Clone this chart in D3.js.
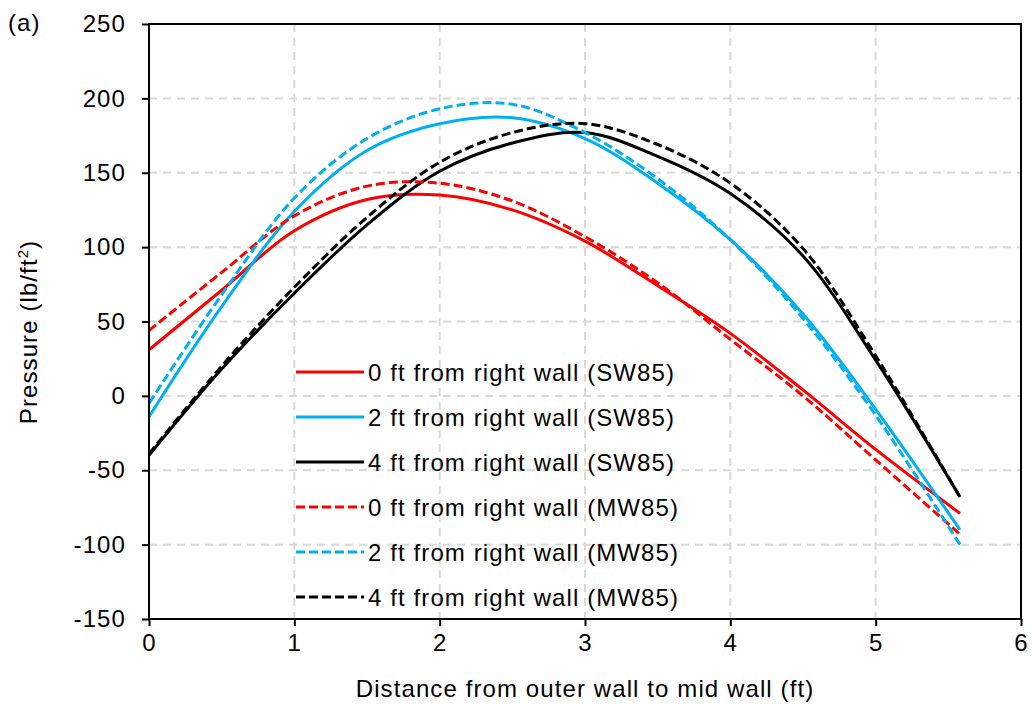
<!DOCTYPE html>
<html>
<head>
<meta charset="utf-8">
<script src="https://cdn.jsdelivr.net/npm/d3@7"></script>
<style>
  html, body { margin: 0; padding: 0; background: #fff; }
  svg { display: block; font-family: "Liberation Sans", Arial, sans-serif; }
</style>
</head>
<body>
<svg id="chart" width="1032" height="704"></svg>
<script>
// Distance from the outer wall (ft)
const xs = [0, 0.5, 1, 1.5, 2, 2.5, 3, 3.5, 4, 4.5, 5, 5.58];

// Pressure (lb/ft²) along the span, one array per measurement line
const sw0 = [31, 71, 111, 132, 135, 125, 104, 74, 42, 4, -36, -79];
const sw2 = [-14, 60, 124, 165, 183, 187, 173, 143, 105, 55, -9, -90];
const sw4 = [-40, 18, 69, 115, 151, 170, 177, 161, 136, 94, 24, -68];
const mw0 = [44, 83, 121, 141, 143, 131, 107, 76, 38, 0, -43, -93];
const mw2 = [-5, 68, 133, 173, 193, 196, 177, 146, 105, 52, -13, -100];
const mw4 = [-39, 20, 73, 120, 157, 177, 183, 169, 143, 99, 27, -68];

const seriesNames = [
  "0 ft from right wall (SW85)",
  "2 ft from right wall (SW85)",
  "4 ft from right wall (SW85)",
  "0 ft from right wall (MW85)",
  "2 ft from right wall (MW85)",
  "4 ft from right wall (MW85)"
];
const seriesValues = [sw0, sw2, sw4, mw0, mw2, mw4];
const seriesColors = ["#ff0000", "#00b0f0", "#000000", "#ff0000", "#00b0f0", "#000000"];
const seriesDashed = [false, false, false, true, true, true];

const xTicks = [0, 1, 2, 3, 4, 5, 6];
const yTicks = [-150, -100, -50, 0, 50, 100, 150, 200, 250];

const xTitle = "Distance from outer wall to mid wall (ft)";
const panelLabel = "(a)";

const svg = d3.select("#chart");
const plot = { left: 149, right: 1021, top: 24, bottom: 619 };

const x = d3.scaleLinear().domain([0, 6]).range([plot.left, plot.right]);
const y = d3.scaleLinear().domain([-150, 250]).range([plot.bottom, plot.top]);

const fontSize = 24;
const spacing = "1.1px";

// grid
const grid = svg.append("g");
grid.selectAll("line.v").data(xTicks.filter(t => t > 0 && t < 6)).enter().append("line")
  .attr("x1", d => x(d)).attr("x2", d => x(d))
  .attr("y1", plot.top).attr("y2", plot.bottom)
  .attr("stroke", "#d9d9d9").attr("stroke-width", 2).attr("stroke-dasharray", "8,6");
grid.selectAll("line.h").data(yTicks.filter(t => t > -150 && t < 250)).enter().append("line")
  .attr("x1", plot.left).attr("x2", plot.right)
  .attr("y1", d => y(d)).attr("y2", d => y(d))
  .attr("stroke", "#d9d9d9").attr("stroke-width", 2).attr("stroke-dasharray", "8,6");

// axes
const plain = d => String(d);
const xAxis = d3.axisBottom(x).tickValues(xTicks).tickSize(7).tickPadding(8).tickFormat(plain);
const yAxis = d3.axisLeft(y).tickValues(yTicks).tickSize(7).tickPadding(16).tickFormat(plain);

const gx = svg.append("g").attr("transform", `translate(0,${plot.bottom})`).call(xAxis);
const gy = svg.append("g").attr("transform", `translate(${plot.left},0)`).call(yAxis);
[gx, gy].forEach(g => {
  g.select(".domain").remove();
  g.selectAll(".tick line").attr("stroke", "#000").attr("stroke-width", 2);
  g.selectAll(".tick text")
    .attr("fill", "#000")
    .style("font-size", fontSize + "px")
    .style("letter-spacing", spacing)
    .style("font-family", "'Liberation Sans', Arial, sans-serif");
});
gx.selectAll(".tick text").attr("dy", "0.71em");

// data lines
const line = d3.line()
  .x((d, i) => x(xs[i]))
  .y(d => y(d))
  .curve(d3.curveCatmullRom.alpha(0.5));

svg.append("g").selectAll("path").data(d3.range(seriesValues.length)).enter().append("path")
  .attr("d", i => line(seriesValues[i]))
  .attr("fill", "none")
  .attr("stroke", i => seriesColors[i])
  .attr("stroke-width", 3)
  .attr("stroke-dasharray", i => seriesDashed[i] ? "9,4" : null);

// frame
svg.append("rect")
  .attr("x", plot.left).attr("y", plot.top)
  .attr("width", plot.right - plot.left).attr("height", plot.bottom - plot.top)
  .attr("fill", "none").attr("stroke", "#000").attr("stroke-width", 2);

// legend
const legend = svg.append("g");
const legX = 296, legY0 = 372, legStep = 45;
seriesNames.forEach((name, i) => {
  const yy = legY0 + i * legStep;
  legend.append("line")
    .attr("x1", legX).attr("x2", legX + 68)
    .attr("y1", yy).attr("y2", yy)
    .attr("stroke", seriesColors[i]).attr("stroke-width", 3)
    .attr("stroke-dasharray", seriesDashed[i] ? "9,4" : null);
  legend.append("text")
    .attr("x", legX + 72).attr("y", yy + 8.5)
    .style("font-size", fontSize + "px")
    .style("letter-spacing", spacing)
    .attr("fill", "#000")
    .text(name);
});

// axis titles
svg.append("text")
  .attr("x", (plot.left + plot.right) / 2).attr("y", 697)
  .attr("text-anchor", "middle")
  .style("font-size", fontSize + "px")
  .style("letter-spacing", spacing)
  .text(xTitle);

const yt = svg.append("text")
  .attr("transform", "translate(37,332) rotate(-90)")
  .attr("text-anchor", "middle")
  .style("font-size", fontSize + "px")
  .style("letter-spacing", spacing);
yt.append("tspan").text("Pressure (lb/ft");
yt.append("tspan").attr("dy", -9).style("font-size", "15px").text("2");
yt.append("tspan").attr("dy", 9).text(")");

svg.append("text")
  .attr("x", 8).attr("y", 31)
  .style("font-size", fontSize + "px")
  .style("letter-spacing", spacing)
  .text(panelLabel);
</script>
</body>
</html>
